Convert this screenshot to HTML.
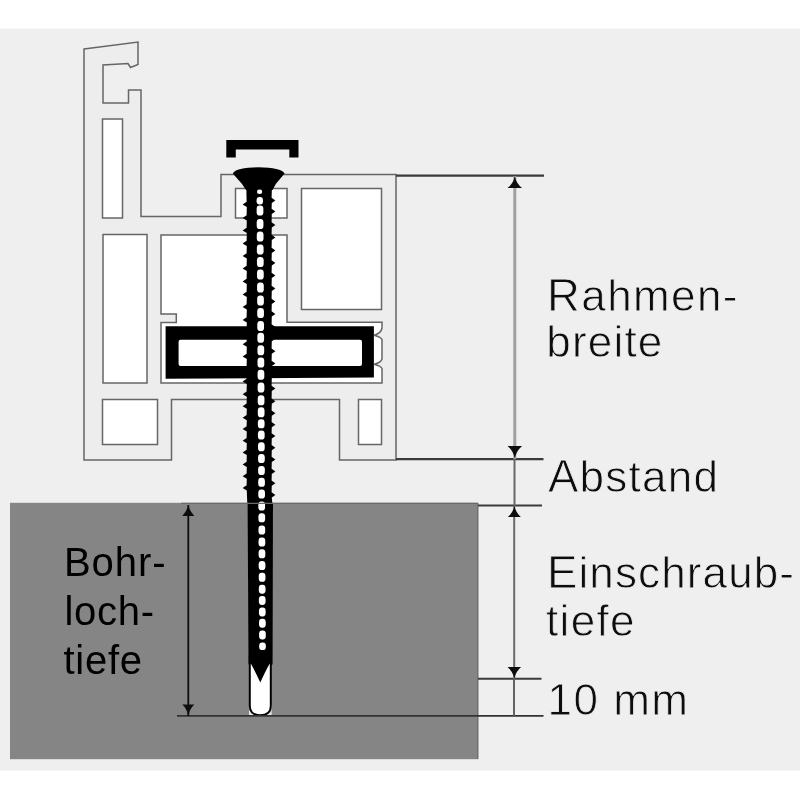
<!DOCTYPE html>
<html><head><meta charset="utf-8">
<style>
html,body{margin:0;padding:0;background:#fff;}
body{width:800px;height:800px;overflow:hidden;position:relative;}
svg{position:absolute;left:0;top:0;}
text{font-family:"Liberation Sans",sans-serif;}
</style></head>
<body>
<svg width="800" height="800" viewBox="0 0 800 800">
<defs><filter id="bl" x="0" y="0" width="800" height="800" filterUnits="userSpaceOnUse"><feGaussianBlur stdDeviation="0.45"/></filter></defs>
<rect x="0" y="0" width="800" height="800" fill="#ffffff"/>
<g filter="url(#bl)">
<rect x="-5" y="28.5" width="810" height="742" fill="#efefef"/>
<rect x="10" y="502.8" width="468.3" height="256.4" fill="#858585"/>
<line x1="477.8" y1="503" x2="477.8" y2="759" stroke="#666" stroke-width="1"/>
<path d="M84,49 L138,42 L138,64.5 L130.5,67.5 L128,63.5 L103,65 L103,103 L128.5,103 L128.5,90 L141,90 L141,216.5 L221,216.5 L221,174.5 L396,174.5 L396,460 L339.5,460 L339.5,399.5 L171.5,399.5 L171.5,460 L84,460 Z" fill="#ededed" stroke="#666" stroke-width="1.5"/>
<g fill="#ffffff" stroke="#666" stroke-width="1.5">
<rect x="102.5" y="119" width="20" height="99"/>
<rect x="103" y="234.5" width="44" height="148.5"/>
<path d="M161,235 L287,235 L287,322.3 L382,322.3 L382,328 Q381,333.5 374.2,335.2 Q381,337 382,339.5 L382,359 Q381,362.5 374.2,364.2 Q381,366 382,368.5 L382,383 L161,383 L161,322.5 L176.3,322.5 L176.3,314 L161,314 Z"/>
<rect x="102.5" y="399.5" width="55" height="45"/>
<rect x="301.5" y="188.5" width="80" height="121"/>
<rect x="358.5" y="399.5" width="23" height="45"/>
<rect x="235.5" y="188.5" width="51.5" height="29.5"/>
</g>
<path d="M165.6,326.2 H373.9 V377.5 L165.6,378.8 Z M180.5,339.8 Q178.6,339.8 178.6,341.8 V364 Q178.6,366 180.5,366 H360 Q362,366 362,364 V341.8 Q362,339.8 360,339.8 Z" fill="#050505" fill-rule="evenodd"/>
<path d="M226.3,140 H298.5 V157.6 H289.3 V149.4 H235.8 V157.6 H226.3 Z" fill="#050505"/>
<path d="M232.8,173.5 Q236,167.6 258.5,167.3 Q281,167.6 284.6,173.5 L275.8,184 L272.5,190 L246,190 L242,184 Z" fill="#050505"/>
<path d="M246.3,186.0 L246.6,201.8 L242.6,204.5 L246.8,207.0 L246.6,215.3 L242.6,218.0 L246.8,220.5 L246.6,227.8 L242.6,230.5 L246.8,233.0 L246.6,240.8 L242.6,243.5 L246.8,246.0 L246.6,253.3 L242.6,256.0 L246.8,258.5 L246.6,265.8 L242.6,268.5 L246.8,271.0 L246.6,278.8 L242.6,281.5 L246.8,284.0 L246.6,291.8 L242.6,294.5 L246.8,297.0 L246.6,304.3 L242.6,307.0 L246.8,309.5 L246.6,317.3 L242.6,320.0 L246.8,322.5 L246.6,329.1 L242.6,331.8 L246.8,334.2 L246.6,341.6 L242.6,344.2 L246.8,346.8 L246.6,353.8 L242.6,356.5 L246.8,359.0 L246.6,366.1 L242.6,368.8 L246.8,371.2 L246.6,378.8 L242.6,381.5 L246.8,384.0 L246.6,391.6 L242.6,394.2 L246.8,396.8 L246.6,403.6 L242.6,406.2 L246.8,408.8 L246.6,415.1 L242.6,417.8 L246.8,420.2 L246.6,426.3 L242.6,429.0 L246.8,431.5 L246.6,438.1 L242.6,440.8 L246.8,443.2 L246.6,449.8 L242.6,452.5 L246.8,455.0 L246.6,461.8 L242.6,464.5 L246.8,467.0 L246.6,473.6 L242.6,476.2 L246.8,478.8 L246.6,485.3 L242.6,488.0 L246.8,490.5 L247.2,502.0 L247.6,504.0 L248.5,664.0 L260.5,682.5 L272.6,664.0 L273.0,504.0 L272.2,502.0 L271.8,497.5 L275.4,495.0 L271.6,492.3 L271.8,485.8 L275.4,483.2 L271.6,480.6 L271.8,474.0 L275.4,471.5 L271.6,468.8 L271.8,462.0 L275.4,459.5 L271.6,456.8 L271.8,450.2 L275.4,447.8 L271.6,445.1 L271.8,438.5 L275.4,436.0 L271.6,433.3 L271.8,427.2 L275.4,424.8 L271.6,422.1 L271.8,415.8 L275.4,413.2 L271.6,410.6 L271.8,403.8 L275.4,401.2 L271.6,398.6 L271.8,391.0 L275.4,388.5 L271.6,385.8 L271.8,378.2 L275.4,375.8 L271.6,373.1 L271.8,366.0 L275.4,363.5 L271.6,360.8 L271.8,353.8 L275.4,351.2 L271.6,348.6 L271.8,341.2 L275.4,338.8 L271.6,336.1 L271.8,329.5 L275.4,327.0 L271.6,324.3 L271.8,316.5 L275.4,314.0 L271.6,311.3 L271.8,304.0 L275.4,301.5 L271.6,298.8 L271.8,291.0 L275.4,288.5 L271.6,285.8 L271.8,278.0 L275.4,275.5 L271.6,272.8 L271.8,265.5 L275.4,263.0 L271.6,260.3 L271.8,253.0 L275.4,250.5 L271.6,247.8 L271.8,240.0 L275.4,237.5 L271.6,234.8 L271.8,227.5 L275.4,225.0 L271.6,222.3 L271.8,214.0 L275.4,211.5 L271.6,208.8 L271.8,203.0 L275.4,200.5 L271.6,197.8 L272.0,186.0 Z" fill="#050505"/>
<g fill="#ffffff">
<rect x="257.00" y="189.45" width="5.2" height="4.6" rx="2.3" ry="2.3"/>
<rect x="256.60" y="196.95" width="6.4" height="7.6" rx="3" ry="3.2"/>
<rect x="256.65" y="205.40" width="6.7" height="10.20" rx="3" ry="3.4"/>
<rect x="256.73" y="218.90" width="6.7" height="10.20" rx="3" ry="3.4"/>
<rect x="256.80" y="231.40" width="6.7" height="10.20" rx="3" ry="3.4"/>
<rect x="256.87" y="244.40" width="6.7" height="10.20" rx="3" ry="3.4"/>
<rect x="256.95" y="256.90" width="6.7" height="10.20" rx="3" ry="3.4"/>
<rect x="257.02" y="269.40" width="6.7" height="10.20" rx="3" ry="3.4"/>
<rect x="257.09" y="282.40" width="6.7" height="10.20" rx="3" ry="3.4"/>
<rect x="257.17" y="295.40" width="6.7" height="10.20" rx="3" ry="3.4"/>
<rect x="257.24" y="307.90" width="6.7" height="10.20" rx="3" ry="3.4"/>
<rect x="257.31" y="320.90" width="6.7" height="10.20" rx="3" ry="3.4"/>
<rect x="257.38" y="332.65" width="6.7" height="10.20" rx="3" ry="3.4"/>
<rect x="257.45" y="345.15" width="6.7" height="10.20" rx="3" ry="3.4"/>
<rect x="257.52" y="357.40" width="6.7" height="10.20" rx="3" ry="3.4"/>
<rect x="257.59" y="369.65" width="6.7" height="10.20" rx="3" ry="3.4"/>
<rect x="257.67" y="382.40" width="6.7" height="10.20" rx="3" ry="3.4"/>
<rect x="257.74" y="395.15" width="6.7" height="10.20" rx="3" ry="3.4"/>
<rect x="257.81" y="407.15" width="6.7" height="10.20" rx="3" ry="3.4"/>
<rect x="257.87" y="419.15" width="6.7" height="9.20" rx="3" ry="3.4"/>
<rect x="257.94" y="430.40" width="6.7" height="9.20" rx="3" ry="3.4"/>
<rect x="258.01" y="442.15" width="6.7" height="9.20" rx="3" ry="3.4"/>
<rect x="258.07" y="453.90" width="6.7" height="9.20" rx="3" ry="3.4"/>
<rect x="258.14" y="465.90" width="6.7" height="9.20" rx="3" ry="3.4"/>
<rect x="258.21" y="477.65" width="6.7" height="9.20" rx="3" ry="3.4"/>
<rect x="258.28" y="489.40" width="6.7" height="9.20" rx="3" ry="3.4"/>
<rect x="258.35" y="501.40" width="6.7" height="9.20" rx="3" ry="3.4"/>
<rect x="258.41" y="513.15" width="6.7" height="9.20" rx="3" ry="3.4"/>
<rect x="258.48" y="525.40" width="6.7" height="9.20" rx="3" ry="3.4"/>
<rect x="258.55" y="537.40" width="6.7" height="9.20" rx="3" ry="3.4"/>
<rect x="258.62" y="549.15" width="6.7" height="9.20" rx="3" ry="3.4"/>
<rect x="258.69" y="560.90" width="6.7" height="9.20" rx="3" ry="3.4"/>
<rect x="258.75" y="572.65" width="6.7" height="9.20" rx="3" ry="3.4"/>
<rect x="258.82" y="584.80" width="6.7" height="8.90" rx="3" ry="3.4"/>
<rect x="258.89" y="596.05" width="6.7" height="8.90" rx="3" ry="3.4"/>
<rect x="258.95" y="607.55" width="6.7" height="8.90" rx="3" ry="3.4"/>
<rect x="259.02" y="618.80" width="6.7" height="8.90" rx="3" ry="3.4"/>
<rect x="259.09" y="630.55" width="6.7" height="8.90" rx="3" ry="3.4"/>
<rect x="259.15" y="642.45" width="6.7" height="7.60" rx="3" ry="3.4"/>
</g>

<rect x="249" y="704" width="22.6" height="11.5" fill="#e8e8e8"/>
<path d="M248.8,656 H271.8 V706 Q271.8,716 260.3,716 Q248.8,716 248.8,706 Z" fill="#050505"/>
<path d="M250.8,663.5 Q255,671 260.3,682.5 Q265.5,671 269.8,663.5 L269.8,706 Q269.8,714.2 260.3,714.2 Q250.8,714.2 250.8,706 Z" fill="#ffffff"/>
<g stroke="#3a3a3a" stroke-width="2.3">
<line x1="396" y1="175.6" x2="544" y2="175.6"/>
<line x1="396" y1="459.2" x2="543.5" y2="459.2"/>
<line x1="478" y1="505.4" x2="542" y2="505.4" stroke-width="2"/>
<line x1="478" y1="678.8" x2="541.5" y2="678.8" stroke-width="2"/>
</g>
<line x1="177" y1="715.8" x2="543.5" y2="715.8" stroke="#333" stroke-width="1.7"/>
<line x1="181" y1="503.3" x2="478" y2="503.3" stroke="#6a6a6a" stroke-width="1.2"/>
<line x1="514.8" y1="176" x2="514.8" y2="459" stroke="#a0a0a0" stroke-width="3"/>
<line x1="514.5" y1="459" x2="514.5" y2="506" stroke="#666" stroke-width="2"/>
<line x1="514.2" y1="506" x2="514.2" y2="679" stroke="#6a6a6a" stroke-width="2"/>
<line x1="514" y1="679" x2="514" y2="716" stroke="#555" stroke-width="1.8"/>
<line x1="188.3" y1="505" x2="188.3" y2="716" stroke="#0a0a0a" stroke-width="1.8"/>
<g fill="#111">
<path d="M514.8,176.2 Q516.3,183.28 522.05,188.0 L507.54999999999995,188.0 Q513.3,183.28 514.8,176.2 Z"/>
<path d="M514.8,458.5 Q516.3,451.0 522.05,446.0 L507.54999999999995,446.0 Q513.3,451.0 514.8,458.5 Z"/>
<path d="M514.4,506 Q515.9,512.6 520.9,517 L507.9,517 Q512.9,512.6 514.4,506 Z"/>
<path d="M514.3,678.5 Q515.8,671.6 521.05,667.0 L507.54999999999995,667.0 Q512.8,671.6 514.3,678.5 Z"/>
<path d="M188.3,505 Q189.8,511.6 194.3,516 L182.3,516 Q186.8,511.6 188.3,505 Z"/>
<path d="M188.3,715.5 Q189.8,708.9 194.3,704.5 L182.3,704.5 Q186.8,708.9 188.3,715.5 Z"/>
</g>
<g fill="#111" font-size="44" stroke="#efefef" stroke-width="0.8" paint-order="fill" lengthAdjust="spacing">
<text x="547" y="310.6" textLength="190.5"><tspan font-size="45.5">R</tspan>ahmen-</text>
<text x="546.3" y="357.1" textLength="116">breite</text>
<text x="548" y="492.1" textLength="170"><tspan font-size="45.5">A</tspan>bstand</text>
<text x="547" y="588.2" textLength="247"><tspan font-size="45.5">E</tspan>inschraub-</text>
<text x="546" y="636" textLength="88.5">tiefe</text>
<text x="547.5" y="715" textLength="140.5">10 mm</text>
</g>
<g fill="#000" font-size="40" lengthAdjust="spacing">
<text x="64" y="575.5" textLength="101.5">Bohr-</text>
<text x="64.5" y="624.5" textLength="89.6">loch-</text>
<text x="63.5" y="673.5" textLength="78.5">tiefe</text>
</g>
</g>
</svg>
</body></html>
